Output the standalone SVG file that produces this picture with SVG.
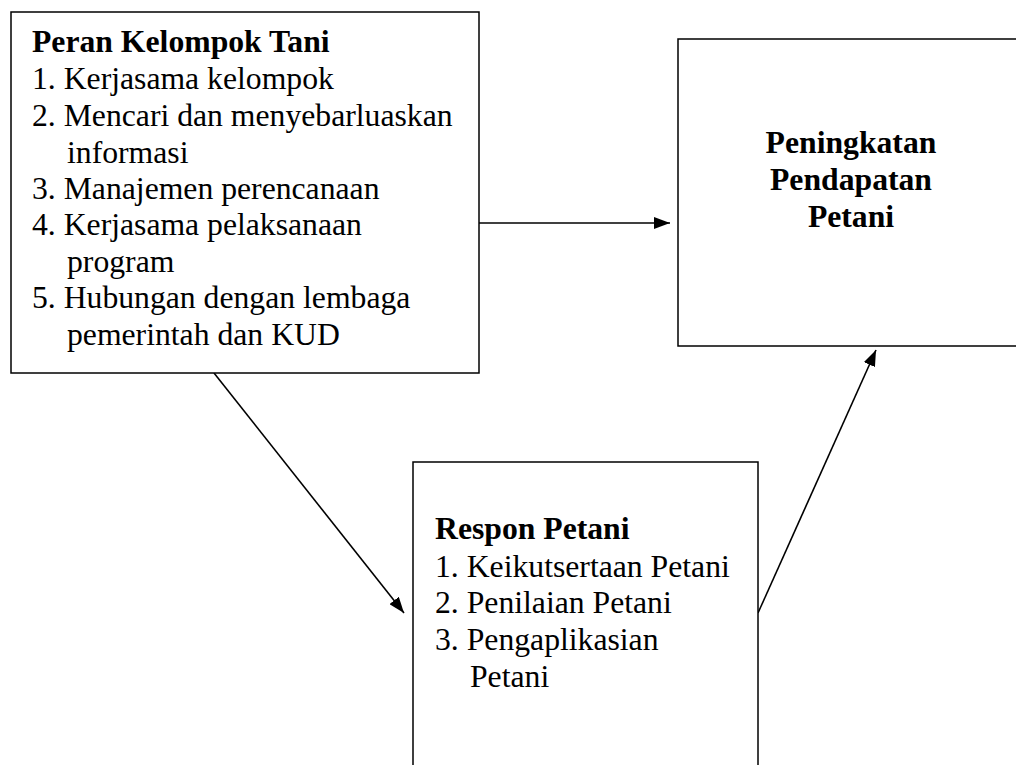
<svg xmlns="http://www.w3.org/2000/svg" width="1016" height="765" viewBox="0 0 1016 765">
<defs>
<style>
.box{fill:#fff;stroke:#000;stroke-width:1.5}
.t{font-family:"Liberation Serif","Times New Roman",serif;font-size:31.7px;fill:#000}
.b{font-weight:bold}
.c{stroke:#000;stroke-width:1.6;fill:none}
</style>
<marker id="ah" viewBox="0 0 16 12" refX="16" refY="6" markerWidth="16" markerHeight="12" markerUnits="userSpaceOnUse" orient="auto">
<path d="M0,0 L16,6 L0,12 Z" fill="#000"/>
</marker>
</defs>
<rect width="1016" height="765" fill="#fff"/>
<g id="connectors">
<line class="c" x1="479" y1="223" x2="670" y2="223" marker-end="url(#ah)"/>
<line class="c" x1="214" y1="373" x2="404" y2="613" marker-end="url(#ah)"/>
<line class="c" x1="758" y1="613" x2="876" y2="350" marker-end="url(#ah)"/>
</g>
<g id="peran">
<rect class="box" x="11" y="12" width="468" height="361"/>
<text class="t b" x="32" y="52">Peran Kelompok Tani</text>
<text class="t" x="32" y="89">1. Kerjasama kelompok</text>
<text class="t" x="32" y="126">2. Mencari dan menyebarluaskan</text>
<text class="t" x="67" y="163">informasi</text>
<text class="t" x="32" y="199">3. Manajemen perencanaan</text>
<text class="t" x="32" y="235">4. Kerjasama pelaksanaan</text>
<text class="t" x="67" y="272">program</text>
<text class="t" x="32" y="308">5. Hubungan dengan lembaga</text>
<text class="t" x="67" y="345">pemerintah dan KUD</text>
</g>
<g id="peningkatan">
<rect class="box" x="678" y="39" width="360" height="307"/>
<text class="t b" x="851" y="153" text-anchor="middle">Peningkatan</text>
<text class="t b" x="851" y="190" text-anchor="middle">Pendapatan</text>
<text class="t b" x="851" y="227" text-anchor="middle">Petani</text>
</g>
<g id="respon">
<rect class="box" x="413" y="462" width="345" height="320"/>
<text class="t b" x="435" y="539">Respon Petani</text>
<text class="t" x="435" y="577">1. Keikutsertaan Petani</text>
<text class="t" x="435" y="613">2. Penilaian Petani</text>
<text class="t" x="435" y="650">3. Pengaplikasian</text>
<text class="t" x="470" y="687">Petani</text>
</g>
</svg>
